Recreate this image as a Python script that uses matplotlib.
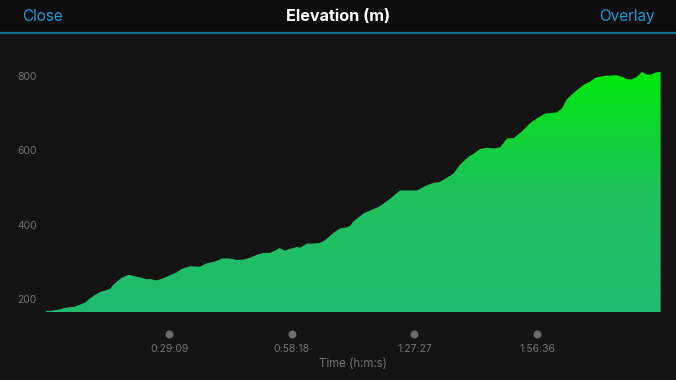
import matplotlib
matplotlib.use("Agg")
import matplotlib.pyplot as plt
import numpy as np
from matplotlib.colors import LinearSegmentedColormap
from matplotlib.transforms import blended_transform_factory

plt.rcParams["font.family"] = ["Inter", "DejaVu Sans"]

BG = "#131313"
HEADER_BG = "#0c0c0c"
BLUE = "#1a9ad6"
GREY = "#747474"

# elapsed time (minutes) and elevation (m)
time_min = [0.0, 0.9, 2.1, 3.3, 4.4, 5.6, 6.8, 8.0, 9.2, 10.4, 11.6, 12.8,
            14.0, 15.1, 15.9, 16.7, 17.9, 19.5, 20.7, 22.3, 23.9, 24.6, 26.2,
            27.8, 29.4, 31.0, 32.2, 34.1, 36.5, 38.1, 40.1, 41.7, 43.6, 45.2,
            46.8, 48.4, 50.0, 51.6, 53.1, 54.3, 55.4, 56.7, 57.9, 59.5, 60.3,
            61.9, 63.4, 65.0, 66.2, 68.2, 69.8, 71.4, 72.2, 72.9, 75.3, 77.7,
            79.3, 81.7, 84.0, 88.0, 90.4, 91.9, 93.5, 95.1, 96.7, 98.3, 100.3,
            101.4, 103.0, 104.6, 106.2, 107.8, 108.2, 109.4, 111.0, 112.9,
            114.9, 116.5, 118.5, 121.3, 122.5, 123.6, 125.6, 127.6, 129.2,
            130.4, 132.3, 135.5, 136.7, 137.9, 139.1, 140.3, 141.5, 142.6,
            143.4, 144.6, 145.9]
elevation = [168, 168, 170, 172, 176, 178, 179, 185, 190, 202, 211, 219,
             223, 227, 238, 246, 257, 265, 262, 258, 253, 254, 250,
             256, 264, 272, 281, 288, 287, 296, 301, 309, 309, 305,
             306, 311, 319, 324, 324, 330, 337, 330, 335, 340, 338,
             349, 349, 351, 358, 378, 390, 393, 397, 408, 430, 442,
             450, 470, 492, 492, 506, 512, 515, 526, 537, 562, 583,
             590, 603, 607, 605, 608, 614, 632, 633, 650,
             673, 686, 699, 702, 713, 737, 758, 776, 785,
             795, 800, 802, 798, 791, 791, 798, 811, 804,
             803, 809, 811]

tick_seconds = [1749, 3498, 5247, 6996]
tick_labels = ["0:29:09", "0:58:18", "1:27:27", "1:56:36"]
y_ticks = [200, 400, 600, 800]

Y_MIN, Y_MAX = 165, 843
T_MAX = 146.0

fig = plt.figure(figsize=(6.76, 3.8), dpi=100)
fig.patch.set_facecolor(BG)

# header bar
fig.patches.append(plt.Rectangle((0, 1 - 33 / 380), 1, 33 / 380, transform=fig.transFigure,
                                 facecolor=HEADER_BG, edgecolor="none", zorder=0))
fig.add_artist(plt.Line2D([0, 1], [1 - 33 / 380] * 2, transform=fig.transFigure,
                          color="#176c93", linewidth=1.6))
fig.text(22 / 676, 1 - 16.5 / 380, "Close", color=BLUE, fontsize=11, ha="left", va="center")
fig.text(655 / 676, 1 - 16.5 / 380, "Overlay", color=BLUE, fontsize=11, ha="right", va="center")
fig.text(0.5, 1 - 16.5 / 380, "Elevation (m)", color="white", fontsize=11.7,
         fontweight="bold", ha="center", va="center")

ax = fig.add_axes([46.3 / 676, 1 - 312 / 380, (661 - 46.3) / 676, 252 / 380])
ax.set_facecolor(BG)
ax.set_xlim(0, T_MAX)
ax.set_ylim(Y_MIN, Y_MAX)

t = np.array(time_min)
e = np.array(elevation)
poly = ax.fill_between(t, e, Y_MIN, color="none", linewidth=0)

cmap = LinearSegmentedColormap.from_list("elev", ["#22bb70", "#1ec25c", "#00e80a"])
grad = np.linspace(0, 1, 256).reshape(-1, 1)
img = ax.imshow(grad, extent=[0, t[-1], Y_MIN, 815], origin="lower", cmap=cmap,
                aspect="auto", zorder=2)
path = poly.get_paths()[0]
img.set_clip_path(path, transform=ax.transData)

for s in ax.spines.values():
    s.set_visible(False)

ax.set_yticks(y_ticks)
ax.set_yticklabels([str(v) for v in y_ticks])
ax.tick_params(axis="y", length=0, pad=7, labelsize=7.5, labelcolor=GREY)

tick_min = [s / 60 for s in tick_seconds]
ax.set_xticks(tick_min)
ax.set_xticklabels(tick_labels)
ax.tick_params(axis="x", length=0, pad=23, labelsize=7.5, labelcolor=GREY)

trans = blended_transform_factory(ax.transData, ax.transAxes)
ax.scatter(tick_min, [-22 / 252] * len(tick_min), s=22, color="#6e6e6e",
           transform=trans, clip_on=False, zorder=3)

fig.text(353 / 676, 1 - 364 / 380, "Time (h:m:s)", color=GREY,
         fontsize=8.3, ha="center", va="center")

fig.savefig("out.png", dpi=100, facecolor=BG)
